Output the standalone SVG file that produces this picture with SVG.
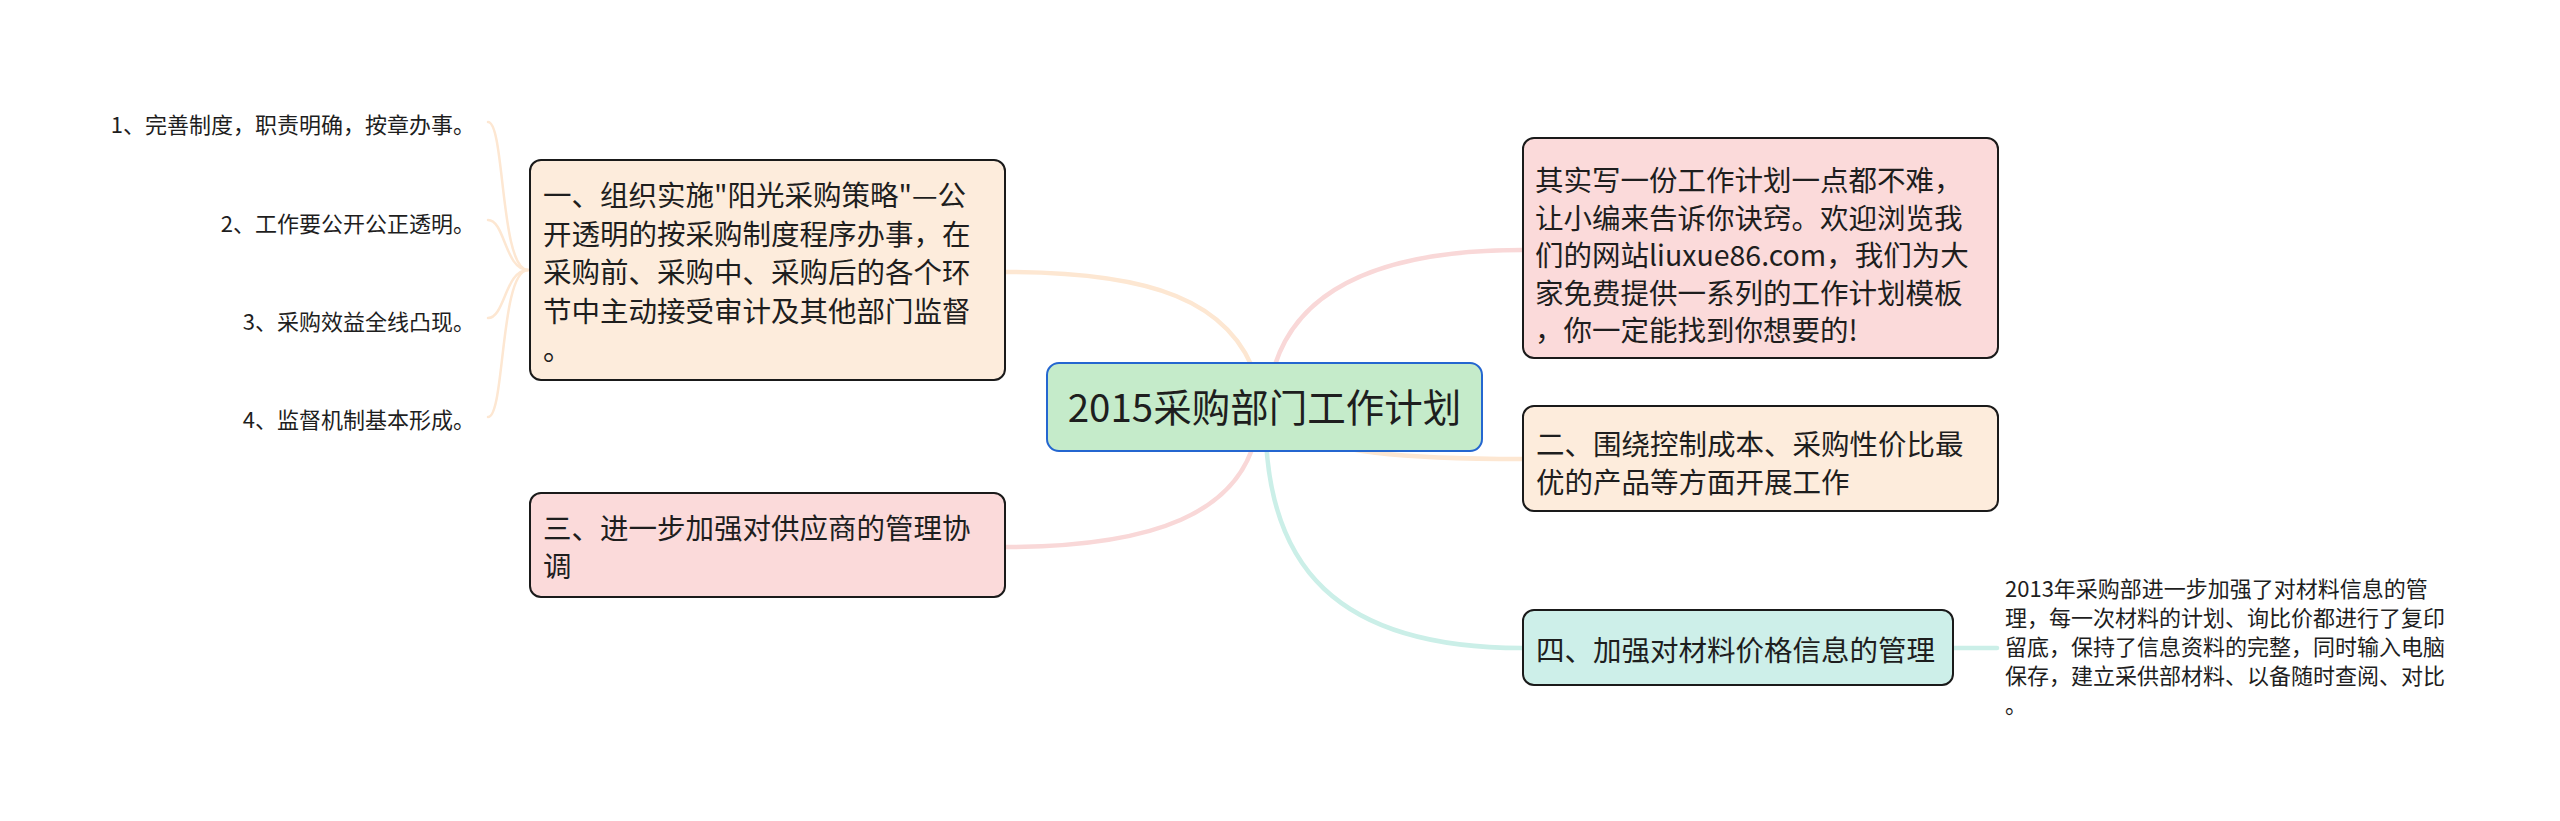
<svg xmlns="http://www.w3.org/2000/svg" width="2560" height="821" viewBox="0 0 2560 821">
<style>
text{font-family:"Noto Sans CJK SC","Noto Sans",sans-serif;fill:#1e1e1e;dominant-baseline:central}
.box{stroke:#1a1a1a;stroke-width:2}
.t{font-size:28.5px}
.s{font-size:22px}
.c{fill:none;stroke-width:4.5;stroke-linecap:round}
.sc{fill:none;stroke-width:2.5;stroke-linecap:round}
.peach{stroke:#fde7d2}
.pink{stroke:#f9d8d8}
.teal{stroke:#cbefe8}
</style>
<rect width="2560" height="821" fill="#ffffff"/>
<g id="connectors">
<path class="c peach" d="M1005,272 C1150,272 1232,300 1257,380"/>
<path class="c pink" d="M1522,250 C1380,250 1290,290 1271,380"/>
<path class="c pink" d="M1005,547 C1160,547 1236,510 1255,440"/>
<path class="c teal" d="M1522,648 C1330,648 1272,560 1266,440"/>
<path class="c peach" d="M1522,459 C1400,459 1330,452 1290,430"/>
<path class="c teal" d="M1953,648 L1997,648"/>
<path class="sc peach" d="M528,270 C500,270 505,122 488,122"/>
<path class="sc peach" d="M528,270 C505,270 505,220 488,220"/>
<path class="sc peach" d="M528,270 C505,270 505,318 488,318"/>
<path class="sc peach" d="M528,270 C500,270 505,417 488,417"/>
</g>
<g id="root">
<rect x="1047" y="363" width="435" height="88" rx="12" fill="#c5ebca" stroke="#2466d0" stroke-width="2"/>
<text x="1264.5" y="405" font-size="38.5" text-anchor="middle">2015采购部门工作计划</text>
</g>
<g id="node1">
<rect class="box" x="530" y="160" width="475" height="220" rx="11" fill="#fdecdc"/>
<text class="t" x="543"><tspan x="543" y="193">一、组织实施"阳光采购策略"—公</tspan><tspan x="543" y="231.5">开透明的按采购制度程序办事，在</tspan><tspan x="543" y="270">采购前、采购中、采购后的各个环</tspan><tspan x="543" y="308.5">节中主动接受审计及其他部门监督</tspan><tspan x="543" y="347">。</tspan></text>
</g>
<g id="node1-1"><text class="s" x="475" y="123" text-anchor="end">1、完善制度，职责明确，按章办事。</text></g>
<g id="node1-2"><text class="s" x="475" y="222" text-anchor="end">2、工作要公开公正透明。</text></g>
<g id="node1-3"><text class="s" x="475" y="320" text-anchor="end">3、采购效益全线凸现。</text></g>
<g id="node1-4"><text class="s" x="475" y="418" text-anchor="end">4、监督机制基本形成。</text></g>
<g id="node3">
<rect class="box" x="530" y="493" width="475" height="104" rx="11" fill="#fbdada"/>
<text class="t"><tspan x="543" y="526">三、进一步加强对供应商的管理协</tspan><tspan x="543" y="564">调</tspan></text>
</g>
<g id="node-intro">
<rect class="box" x="1523" y="138" width="475" height="220" rx="11" fill="#fbdada"/>
<text class="t"><tspan x="1535" y="178">其实写一份工作计划一点都不难，</tspan><tspan x="1535" y="215.5">让小编来告诉你诀窍。欢迎浏览我</tspan><tspan x="1535" y="253">们的网站liuxue86.com，我们为大</tspan><tspan x="1535" y="290.5">家免费提供一系列的工作计划模板</tspan><tspan x="1535" y="328">，你一定能找到你想要的!</tspan></text>
</g>
<g id="node2">
<rect class="box" x="1523" y="406" width="475" height="105" rx="11" fill="#fdecdc"/>
<text class="t"><tspan x="1536" y="442">二、围绕控制成本、采购性价比最</tspan><tspan x="1536" y="480">优的产品等方面开展工作</tspan></text>
</g>
<g id="node4">
<rect class="box" x="1523" y="610" width="430" height="75" rx="11" fill="#cdefe9"/>
<text class="t" x="1536" y="648">四、加强对材料价格信息的管理</text>
</g>
<g id="node4-1">
<text class="s"><tspan x="2005" y="587">2013年采购部进一步加强了对材料信息的管</tspan><tspan x="2005" y="616">理，每一次材料的计划、询比价都进行了复印</tspan><tspan x="2005" y="645">留底，保持了信息资料的完整，同时输入电脑</tspan><tspan x="2005" y="674">保存，建立采供部材料、以备随时查阅、对比</tspan><tspan x="2005" y="703">。</tspan></text>
</g>
</svg>
